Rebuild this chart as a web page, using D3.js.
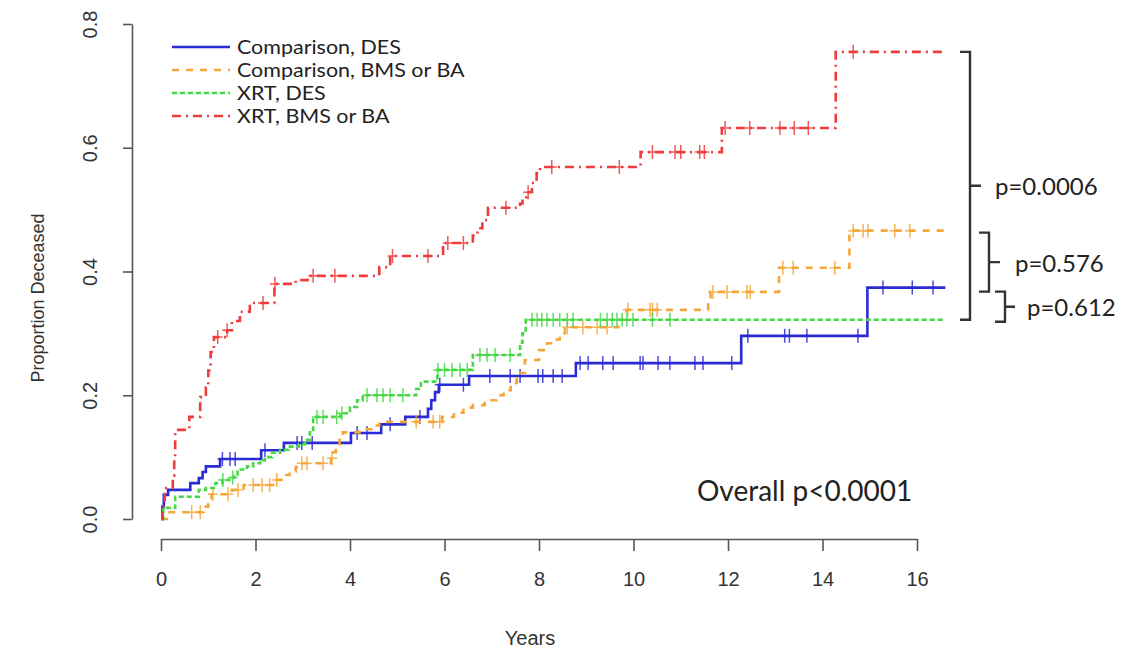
<!DOCTYPE html>
<html>
<head>
<meta charset="utf-8">
<script src="https://cdn.jsdelivr.net/npm/d3@7"></script>
<style>
  html, body { margin: 0; padding: 0; background: #ffffff; }
  svg { display: block; }
</style>
</head>
<body>
<svg id="chart" width="1148" height="652"></svg>
<script>
// ---------------- data ----------------
const seriesNames = ["Comparison, DES", "Comparison, BMS or BA", "XRT, DES", "XRT, BMS or BA"];
const xTicks = [0, 2, 4, 6, 8, 10, 12, 14, 16];
const yTicks = [0.0, 0.2, 0.4, 0.6, 0.8];
const followEnd = 16.6;

// Comparison, DES
const compDesTimes = [0, 0.03, 0.06, 0.15, 0.62, 0.8, 0.88, 0.95, 1.25, 2.12, 2.6, 4.02, 4.66, 5.17, 5.65, 5.72, 5.8, 5.88, 6.52, 8.78, 12.28, 14.95];
const compDesProps = [0, 0.02, 0.039, 0.047, 0.058, 0.066, 0.076, 0.085, 0.097, 0.111, 0.123, 0.139, 0.153, 0.165, 0.178, 0.192, 0.205, 0.217, 0.231, 0.252, 0.296, 0.374];
const compDesCensor = [1.3, 1.46, 1.57, 2.2, 2.88, 2.98, 3.2, 4.15, 4.36, 4.85, 5.48, 5.9, 6.4, 6.96, 7.39, 7.6, 7.98, 8.08, 8.3, 8.49, 8.87, 9.04, 9.35, 9.57, 10.14, 10.2, 10.52, 10.77, 11.3, 11.47, 12.08, 12.42, 13.2, 13.3, 13.67, 14.75, 15.28, 15.9, 16.34];

// Comparison, BMS or BA
const compBmsTimes = [0, 0.12, 0.95, 1.0, 1.07, 1.5, 1.75, 2.45, 2.55, 2.72, 2.85, 2.93, 3.6, 3.65, 3.7, 3.78, 3.85, 4.2, 4.45, 4.62, 5.95, 6.2, 6.4, 6.6, 6.85, 7.1, 7.25, 7.4, 7.53, 7.7, 8.0, 8.17, 8.3, 8.44, 8.55, 9.68, 9.85, 11.58, 11.63, 13.08, 14.57];
const compBmsProps = [0, 0.011, 0.02, 0.031, 0.04, 0.047, 0.055, 0.063, 0.071, 0.077, 0.084, 0.09, 0.098, 0.108, 0.118, 0.133, 0.14, 0.145, 0.151, 0.157, 0.165, 0.172, 0.18, 0.184, 0.192, 0.2, 0.208, 0.22, 0.236, 0.257, 0.273, 0.284, 0.29, 0.3, 0.31, 0.322, 0.338, 0.354, 0.367, 0.406, 0.466];
const compBmsCensor = [0.65, 0.83, 1.1, 1.42, 1.63, 1.95, 2.14, 2.3, 2.45, 2.98, 3.09, 3.43, 3.62, 5.4, 5.76, 5.9, 8.6, 8.93, 9.23, 9.44, 9.88, 10.35, 10.4, 10.5, 11.68, 11.98, 12.4, 12.47, 13.16, 13.38, 14.26, 14.65, 14.86, 14.96, 15.53, 15.85];

// XRT, DES
const xrtDesTimes = [0, 0.05, 0.3, 0.8, 0.95, 1.15, 1.3, 1.45, 1.55, 1.62, 1.82, 1.95, 2.1, 2.2, 2.35, 2.52, 2.7, 2.92, 3.05, 3.15, 3.22, 3.8, 4.0, 4.15, 4.27, 5.4, 5.5, 5.85, 6.6, 7.6, 7.65, 7.72];
const xrtDesProps = [0, 0.018, 0.036, 0.047, 0.05, 0.058, 0.063, 0.067, 0.072, 0.08, 0.085, 0.09, 0.095, 0.1, 0.107, 0.112, 0.117, 0.121, 0.128, 0.14, 0.165, 0.171, 0.181, 0.192, 0.2, 0.21, 0.222, 0.241, 0.265, 0.285, 0.3, 0.322];
const xrtDesCensor = [1.31, 1.52, 3.3, 3.43, 3.72, 3.83, 4.36, 4.57, 4.7, 4.85, 5.12, 5.86, 6.0, 6.16, 6.33, 6.48, 6.75, 6.9, 7.07, 7.39, 7.85, 7.96, 8.06, 8.17, 8.3, 8.44, 8.6, 8.72, 9.3, 9.44, 9.55, 9.65, 9.76, 9.86, 9.99, 10.4, 10.77];

// XRT, BMS or BA
const xrtBmsTimes = [0, 0.03, 0.08, 0.25, 0.28, 0.3, 0.6, 0.83, 0.95, 1.0, 1.05, 1.12, 1.4, 1.5, 1.67, 1.88, 2.4, 2.85, 3.1, 4.62, 4.85, 5.97, 6.6, 6.7, 6.8, 6.92, 7.6, 7.65, 7.75, 7.85, 7.95, 8.02, 10.15, 11.87, 14.28];
const xrtBmsProps = [0, 0.02, 0.05, 0.07, 0.1, 0.144, 0.165, 0.197, 0.213, 0.24, 0.27, 0.294, 0.305, 0.32, 0.335, 0.349, 0.38, 0.386, 0.393, 0.407, 0.425, 0.446, 0.458, 0.47, 0.483, 0.503, 0.51, 0.52, 0.528, 0.543, 0.559, 0.569, 0.593, 0.632, 0.755];
const xrtBmsCensor = [1.2, 1.4, 2.16, 2.41, 3.22, 3.68, 4.9, 5.65, 6.07, 6.4, 7.3, 7.77, 8.27, 9.7, 10.4, 10.88, 11.0, 11.4, 11.5, 11.94, 12.46, 13.1, 13.4, 13.7, 14.65];

const pValueLabels = ["p=0.0006", "p=0.576", "p=0.612"];
const overallLabel = "Overall p<0.0001";

// ---------------- drawing ----------------
const svg = d3.select("#chart");
const x = d3.scaleLinear().domain([0, 16]).range([161, 917]);
const y = d3.scaleLinear().domain([0, 0.8]).range([519, 24]);

const series = [
  {name: seriesNames[0], t: compDesTimes, p: compDesProps, c: compDesCensor, color: "#2b2bd6", dash: null},
  {name: seriesNames[1], t: compBmsTimes, p: compBmsProps, c: compBmsCensor, color: "#f5a63a", dash: "7,7"},
  {name: seriesNames[2], t: xrtDesTimes, p: xrtDesProps, c: xrtDesCensor, color: "#44d844", dash: "5,3"},
  {name: seriesNames[3], t: xrtBmsTimes, p: xrtBmsProps, c: xrtBmsCensor, color: "#ee3c3c", dash: "9,5,2,5"}
];

const axisFont = "'Liberation Sans', Arial, sans-serif";
const textFont = "Lato, 'Open Sans', sans-serif";

// x axis
const gx = svg.append("g").attr("transform", "translate(0,539)")
  .call(d3.axisBottom(x).tickValues(xTicks).tickFormat(d3.format("d")).tickSize(12).tickSizeOuter(0).tickPadding(21));
gx.select(".domain").attr("stroke", "#555").attr("stroke-width", 1.6);
gx.selectAll(".tick line").attr("stroke", "#555").attr("stroke-width", 1.6);
gx.selectAll(".tick text").attr("font-family", axisFont).attr("font-size", 20).attr("fill", "#333");

// y axis
const gy = svg.append("g").attr("transform", "translate(132,0)")
  .call(d3.axisLeft(y).tickValues(yTicks).tickFormat(d3.format(".1f")).tickSize(9).tickSizeOuter(0));
gy.select(".domain").attr("stroke", "#555").attr("stroke-width", 1.6);
gy.selectAll(".tick line").attr("stroke", "#555").attr("stroke-width", 1.6);
gy.selectAll(".tick text")
  .attr("font-family", axisFont).attr("font-size", 20).attr("fill", "#333")
  .attr("transform", "rotate(-90)")
  .attr("x", 0).attr("y", -42).attr("dy", null)
  .attr("text-anchor", "middle").attr("dominant-baseline", "central");

// axis titles
svg.append("text").attr("x", 530).attr("y", 645)
  .attr("text-anchor", "middle").attr("font-family", axisFont).attr("font-size", 20).attr("fill", "#333")
  .text("Years");
svg.append("text").attr("transform", "translate(38,298) rotate(-90)")
  .attr("text-anchor", "middle").attr("dominant-baseline", "central")
  .attr("font-family", axisFont).attr("font-size", 18).attr("fill", "#333")
  .text("Proportion Deceased");

// curves
const line = d3.line().x(d => x(d[0])).y(d => y(d[1])).curve(d3.curveStepAfter);
function stepValue(s, t) {
  let v = 0;
  for (let i = 0; i < s.t.length; i++) { if (s.t[i] <= t) v = s.p[i]; }
  return v;
}
series.forEach(s => {
  const pts = s.t.map((t, i) => [t, s.p[i]]);
  pts.push([followEnd, s.p[s.p.length - 1]]);
  svg.append("path").datum(pts)
    .attr("d", line)
    .attr("fill", "none")
    .attr("stroke", s.color)
    .attr("stroke-width", 2.6)
    .attr("stroke-dasharray", s.dash);
  svg.append("g").selectAll("path").data(s.c).join("path")
    .attr("d", t => {
      const cx = x(t), cy = y(stepValue(s, t));
      return `M${cx - 5},${cy}h10M${cx},${cy - 7}v14`;
    })
    .attr("stroke", s.color).attr("stroke-width", 1.5).attr("opacity", 0.85).attr("fill", "none");
});

// legend
const legend = svg.append("g");
series.forEach((s, i) => {
  const ly = 47 + i * 23;
  legend.append("line").attr("x1", 172).attr("x2", 230).attr("y1", ly).attr("y2", ly)
    .attr("stroke", s.color).attr("stroke-width", 2.6).attr("stroke-dasharray", s.dash);
  legend.append("text").attr("transform", `translate(237,${ly}) scale(1.13,1)`)
    .attr("dominant-baseline", "central")
    .attr("font-family", textFont).attr("font-size", 19).attr("fill", "#222")
    .text(s.name);
});

// brackets for p-values
const endP = series.map(s => s.p[s.p.length - 1]);
function bracket(x0, yTop, yBot, serif, tickLen, label, labelX) {
  const ym = (yTop + yBot) / 2;
  svg.append("path")
    .attr("d", `M${x0 - serif},${yTop}H${x0}V${yBot}H${x0 - serif}M${x0},${ym}H${x0 + tickLen}`)
    .attr("fill", "none").attr("stroke", "#333").attr("stroke-width", 2.4);
  svg.append("text").attr("x", labelX).attr("y", ym).attr("dominant-baseline", "central")
    .attr("font-family", textFont).attr("font-size", 24).attr("fill", "#222").text(label);
}
bracket(970, y(endP[3]), y(endP[2]), 10, 11, pValueLabels[0], 995);
bracket(989, y(endP[1]) + 2, y(endP[0]) + 4, 10, 11, pValueLabels[1], 1015);
bracket(1005, y(endP[0]) + 4, y(endP[2]) + 2, 10, 10, pValueLabels[2], 1027);

svg.append("text").attr("x", 697).attr("y", 490).attr("dominant-baseline", "central")
  .attr("font-family", textFont).attr("font-size", 28).attr("fill", "#222").text(overallLabel);
</script>
</body>
</html>
